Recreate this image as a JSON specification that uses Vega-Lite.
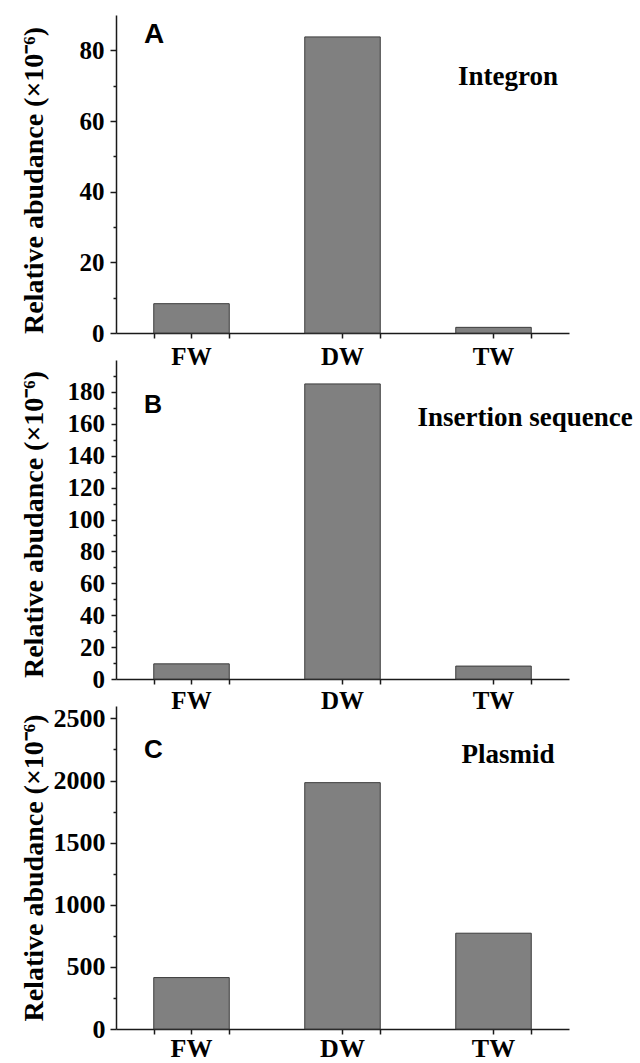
{
  "$schema": "https://vega.github.io/schema/vega-lite/v6.json",
  "padding": {"left": 20, "top": 15, "right": 0, "bottom": 0},
  "background": "white",
  "data": {"values": [
    {"panel": "A", "site": "FW", "value": 8.3},
    {"panel": "A", "site": "DW", "value": 83.8},
    {"panel": "A", "site": "TW", "value": 1.6},
    {"panel": "B", "site": "FW", "value": 9.5},
    {"panel": "B", "site": "DW", "value": 185},
    {"panel": "B", "site": "TW", "value": 8.1},
    {"panel": "C", "site": "FW", "value": 414},
    {"panel": "C", "site": "DW", "value": 1983},
    {"panel": "C", "site": "TW", "value": 771}
  ]},
  "spacing": 27,
  "bounds": "flush",
  "vconcat": [
    {
      "width": 453, "height": 318,
      "layer": [
        {
          "transform": [{"filter": "datum.panel === 'A'"}],
          "mark": {"type": "bar", "fill": "#808080", "stroke": "#3c3c3c", "strokeWidth": 1},
          "encoding": {
            "x": {"field": "site", "type": "nominal", "scale": {"domain": ["FW", "DW", "TW"], "paddingInner": 0.5, "paddingOuter": 0.25},
              "axis": {"orient": "bottom", "tickBand": "center", "title": null, "labelAngle": 0, "labelFontSize": 25, "labelPadding": 6.5, "tickSize": 5}},
            "y": {"field": "value", "type": "quantitative", "scale": {"domain": [0, 90], "nice": false},
              "axis": {"orient": "left", "values": [0, 20, 40, 60, 80], "format": "d", "tickSize": 6, "labelPadding": 6, "labelFontSize": 25,
                "title": "Relative abudance (×10⁻⁶)", "titleX": -74, "titleY": 165, "titleBaseline": "alphabetic"}}
          }
        },
        {
          "transform": [{"filter": "datum.panel === 'A'"}],
          "mark": {"type": "tick", "opacity": 0},
          "encoding": {
            "x": {"field": "site", "type": "nominal", "axis": {"orient": "bottom", "tickBand": "extent", "labels": false, "domain": false, "title": null, "tickSize": 5}},
            "y": {"field": "value", "type": "quantitative", "axis": {"orient": "left", "values": [10, 30, 50, 70], "labels": false, "domain": false, "title": null, "tickSize": 3}}
          }
        },
        {
          "data": {"values": [{"t": "A"}]},
          "mark": {"type": "text", "font": "Liberation Sans", "fontWeight": "bold", "fontSize": 28, "align": "left", "baseline": "alphabetic", "dx": -47.5},
          "encoding": {"x": {"datum": "FW", "axis": null}, "y": {"datum": 82, "axis": null}, "text": {"field": "t"}}
        },
        {
          "data": {"values": [{"t": "Integron"}]},
          "mark": {"type": "text", "font": "Liberation Serif", "fontWeight": "bold", "fontSize": 27, "align": "left", "baseline": "alphabetic", "dx": -35.5},
          "encoding": {"x": {"datum": "TW", "axis": null}, "y": {"datum": 70.2, "axis": null}, "text": {"field": "t"}}
        }
      ],
      "resolve": {"axis": {"x": "independent", "y": "independent"}}
    },
    {
      "width": 453, "height": 319,
      "layer": [
        {
          "transform": [{"filter": "datum.panel === 'B'"}],
          "mark": {"type": "bar", "fill": "#808080", "stroke": "#3c3c3c", "strokeWidth": 1},
          "encoding": {
            "x": {"field": "site", "type": "nominal", "scale": {"domain": ["FW", "DW", "TW"], "paddingInner": 0.5, "paddingOuter": 0.25},
              "axis": {"orient": "bottom", "tickBand": "center", "title": null, "labelAngle": 0, "labelFontSize": 25, "labelPadding": 4.5, "tickSize": 5}},
            "y": {"field": "value", "type": "quantitative", "scale": {"domain": [0, 200], "nice": false},
              "axis": {"orient": "left", "values": [0, 20, 40, 60, 80, 100, 120, 140, 160, 180], "format": "d", "tickSize": 5, "labelPadding": 6.5, "labelFontSize": 25,
                "title": "Relative abudance (×10⁻⁶)", "titleX": -74, "titleY": 164, "titleBaseline": "alphabetic"}}
          }
        },
        {
          "transform": [{"filter": "datum.panel === 'B'"}],
          "mark": {"type": "tick", "opacity": 0},
          "encoding": {
            "x": {"field": "site", "type": "nominal", "axis": {"orient": "bottom", "tickBand": "extent", "labels": false, "domain": false, "title": null, "tickSize": 5}},
            "y": {"field": "value", "type": "quantitative", "axis": {"orient": "left", "values": [10, 30, 50, 70, 90, 110, 130, 150, 170, 190], "labels": false, "domain": false, "title": null, "tickSize": 3}}
          }
        },
        {
          "data": {"values": [{"t": "B"}]},
          "mark": {"type": "text", "font": "Liberation Sans", "fontWeight": "bold", "fontSize": 25, "align": "left", "baseline": "alphabetic", "dx": -47.5},
          "encoding": {"x": {"datum": "FW", "axis": null}, "y": {"datum": 166.6, "axis": null}, "text": {"field": "t"}}
        },
        {
          "data": {"values": [{"t": "Insertion sequence"}]},
          "mark": {"type": "text", "font": "Liberation Serif", "fontWeight": "bold", "fontSize": 27, "align": "left", "baseline": "alphabetic", "dx": -76},
          "encoding": {"x": {"datum": "TW", "axis": null}, "y": {"datum": 158.6, "axis": null}, "text": {"field": "t"}}
        }
      ],
      "resolve": {"axis": {"x": "independent", "y": "independent"}}
    },
    {
      "width": 453, "height": 323,
      "layer": [
        {
          "transform": [{"filter": "datum.panel === 'C'"}],
          "mark": {"type": "bar", "fill": "#808080", "stroke": "#3c3c3c", "strokeWidth": 1},
          "encoding": {
            "x": {"field": "site", "type": "nominal", "scale": {"domain": ["FW", "DW", "TW"], "paddingInner": 0.5, "paddingOuter": 0.25},
              "axis": {"orient": "bottom", "tickBand": "center", "title": null, "labelAngle": 0, "labelFontSize": 26, "labelPadding": 1, "tickSize": 5}},
            "y": {"field": "value", "type": "quantitative", "scale": {"domain": [0, 2600], "nice": false},
              "axis": {"orient": "left", "values": [0, 500, 1000, 1500, 2000, 2500], "format": "d", "tickSize": 6, "labelPadding": 5, "labelFontSize": 26,
                "title": "Relative abudance (×10⁻⁶)", "titleX": -74, "titleBaseline": "alphabetic"}}
          }
        },
        {
          "transform": [{"filter": "datum.panel === 'C'"}],
          "mark": {"type": "tick", "opacity": 0},
          "encoding": {
            "x": {"field": "site", "type": "nominal", "axis": {"orient": "bottom", "tickBand": "extent", "labels": false, "domain": false, "title": null, "tickSize": 5}},
            "y": {"field": "value", "type": "quantitative", "axis": {"orient": "left", "values": [250, 750, 1250, 1750, 2250], "labels": false, "domain": false, "title": null, "tickSize": 3}}
          }
        },
        {
          "data": {"values": [{"t": "C"}]},
          "mark": {"type": "text", "font": "Liberation Sans", "fontWeight": "bold", "fontSize": 26, "align": "left", "baseline": "alphabetic", "dx": -47.5},
          "encoding": {"x": {"datum": "FW", "axis": null}, "y": {"datum": 2179, "axis": null}, "text": {"field": "t"}}
        },
        {
          "data": {"values": [{"t": "Plasmid"}]},
          "mark": {"type": "text", "font": "Liberation Serif", "fontWeight": "bold", "fontSize": 27, "align": "left", "baseline": "alphabetic", "dx": -32},
          "encoding": {"x": {"datum": "TW", "axis": null}, "y": {"datum": 2144, "axis": null}, "text": {"field": "t"}}
        }
      ],
      "resolve": {"axis": {"x": "independent", "y": "independent"}}
    }
  ],
  "config": {
    "font": "Liberation Serif",
    "view": {"stroke": null},
    "axis": {
      "grid": false,
      "domainColor": "#1a1a1a", "domainWidth": 1.5,
      "tickColor": "#1a1a1a", "tickWidth": 1.5,
      "labelFont": "Liberation Serif", "labelFontWeight": "bold", "labelColor": "#000000",
      "titleFont": "Liberation Serif", "titleFontWeight": "bold", "titleFontSize": 28, "titleColor": "#000000"
    }
  }
}
